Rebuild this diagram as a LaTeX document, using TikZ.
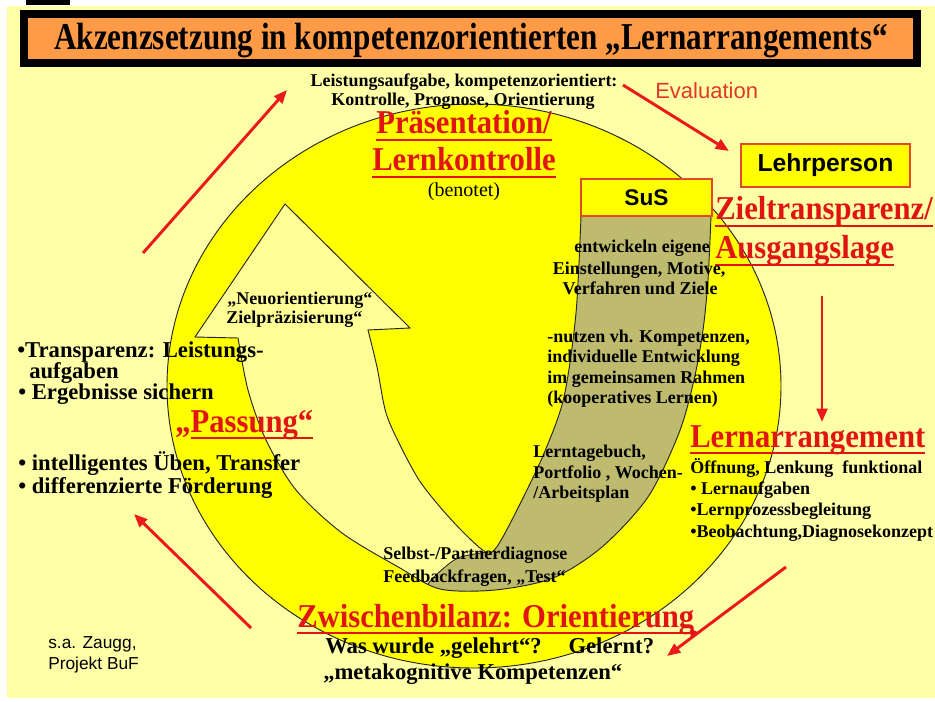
\documentclass[tikz,border=0pt]{standalone}
\usepackage{fontspec}
\setmainfont{Liberation Serif}
\newfontfamily\arialf{Liberation Sans}
\usetikzlibrary{arrows.meta}
\definecolor{bgy}{RGB}{255,255,168}
\definecolor{cyell}{RGB}{255,255,0}
\definecolor{arrowy}{RGB}{255,255,150}
\definecolor{olivef}{RGB}{190,186,110}
\definecolor{titleor}{RGB}{255,155,70}
\definecolor{hdred}{RGB}{225,20,20}
\definecolor{arred}{RGB}{235,25,25}
\definecolor{evred}{RGB}{225,55,40}
\definecolor{boxred}{RGB}{225,75,35}
\newcommand\fsz[1]{\fontsize{#1}{#1}\selectfont}
\newcommand\hul[1]{\setbox0=\hbox{#1}\rlap{\vrule height -3.6pt depth 5.4pt width \wd0}\box0}
\newcommand\cz[1]{\scalebox{0.92}[1]{#1}}
\newcommand\Ushp{(285,204) -- (410,328) -- (368,330) -- plot[smooth] coordinates {(368,330) (377,367) (386,413) (401,447) (419,480) (440,507) (461,530) (480,548) (490,553) (500,542) (522,500) (545,451) (564,397) (576,313) (581,216)} -- (711,216) -- plot[smooth] coordinates {(711,216) (708,280) (703,330) (694,380) (679,433) (648,497) (602,547) (553,578) (495,590) (440,589) (400,568) (342,533) (296,490) (266,440) (248,390) (238,338)} -- (195,337) -- cycle}
\begin{document}
\begin{tikzpicture}[x=0.75pt,y=-0.75pt,
  sb/.style={inner sep=0pt, font=\bfseries\fsz{13.5pt}},
  mb/.style={inner sep=0pt, font=\bfseries\fsz{17pt}},
  hd/.style={inner sep=0pt, text=hdred, font=\bfseries\fsz{25pt}},
  redarrow/.style={draw=arred, line width=2.2pt, -{Triangle[length=10pt,width=8pt]}},
  outl/.style={draw=black!85, line width=0.7pt}]
\useasboundingbox (0,0) rectangle (935,702);
\fill[white] (0,0) rectangle (935,702);
\fill[bgy] (7,6) rectangle (935,698);
\fill[black] (26,0) rectangle (70,5);
% title
\node[draw=black, line width=6pt, fill=titleor, minimum width=669.75pt, minimum height=36.75pt, inner sep=0pt] (tbox) at (470.5,38.5) {};
\node[anchor=base, inner sep=0pt, font=\bfseries\fsz{28.5pt}] (title) at (471,50) {\scalebox{0.82}[1]{Akzenzsetzung in kompetenzorientierten „Lernarrangements“}};
% big circle
\filldraw[fill=cyell, outl] (474,386) ellipse [x radius=230.25pt, y radius=211.5pt];
% U arrow
\fill[arrowy] \Ushp;
\begin{scope}
\clip (488,552) -- (458,558) -- (436,575) -- (428,584) -- (415,600) -- (415,702) -- (935,702) -- (935,150) -- (494,150) -- (494,548) -- cycle;
\fill[olivef] \Ushp;
\end{scope}
\draw[outl] plot[smooth] coordinates {(488,552) (458,558) (436,575) (428,584)};
\draw[outl] \Ushp;
% boxes
\node[draw=boxred, line width=1.1pt, fill=cyell, minimum width=98.25pt, minimum height=27.75pt, inner sep=0pt, font=\arialf\bfseries\fsz{17pt}] (sus) at (646.5,197.5) {SuS};
\node[draw=boxred, line width=1.1pt, fill=cyell, minimum width=126.75pt, minimum height=32.25pt, inner sep=0pt, font=\arialf\bfseries\fsz{18.5pt}] (lehr) at (825.5,165.5) {Lehrperson};
% top texts
\node[sb, anchor=base] (leist1) at (464,87) {Leistungsaufgabe, kompetenzorientiert:};
\node[sb, anchor=base] (leist2) at (463,106) {Kontrolle, Prognose, Orientierung};
\node[anchor=base west, inner sep=0pt, text=evred, font=\arialf\fsz{16.5pt}] (eval) at (655,99) {Evaluation};
\node[hd, anchor=base] (praes) at (464,134) {\hul{\cz{Präsentation/}}};
\node[hd, anchor=base] (lernk) at (464,171) {\hul{\cz{Lernkontrolle}}};
\node[anchor=base, inner sep=0pt, font=\fsz{15pt}] (benot) at (464,197) {(benotet)};
% right texts
\node[hd, anchor=base west] (ziel1) at (715,220) {\hul{\cz{Zieltransparenz/}}};
\node[hd, anchor=base west] (ziel2) at (715,259) {\hul{\cz{Ausgangslage}}};
\node[hd, anchor=base west] (lernarr) at (690,447) {\hul{\cz{Lernarrangement}}};
\node[sb, anchor=base west] (oeff) at (690,473) {Öffnung, Lenkung\ \ funktional};
\node[sb, anchor=base west] (la1) at (690,494) {• Lernaufgaben};
\node[sb, anchor=base west] (la2) at (690,515) {•Lernprozessbegleitung};
\node[sb, anchor=base west] (la3) at (690,537) {•Beobachtung,Diagnosekonzept};
% inner texts
\node[sb, anchor=base] (ent1) at (642,253) {entwickeln eigene};
\node[sb, anchor=base] (ent2) at (639,275) {Einstellungen, Motive,};
\node[sb, anchor=base] (ent3) at (640,295) {Verfahren und Ziele};
\node[sb, anchor=base west] (nutz1) at (547,342) {-nutzen vh. Kompetenzen,};
\node[sb, anchor=base west] (nutz2) at (547,362) {individuelle Entwicklung};
\node[sb, anchor=base west] (nutz3) at (547,383) {im gemeinsamen Rahmen};
\node[sb, anchor=base west] (nutz4) at (547,403) {(kooperatives Lernen)};
\node[sb, anchor=base west] (lt1) at (533,457) {Lerntagebuch,};
\node[sb, anchor=base west] (lt2) at (533,478) {Portfolio , Wochen-};
\node[sb, anchor=base west] (lt3) at (533,498) {/Arbeitsplan};
\node[sb, anchor=base west] (sp1) at (383,559) {Selbst-/Partnerdiagnose};
\node[sb, anchor=base west] (sp2) at (383,582) {Feedbackfragen, „Test“};
\node[sb, anchor=base west] (neu1) at (227,305) {„Neuorientierung“};
\node[sb, anchor=base west] (neu2) at (226,323) {Zielpräzisierung“};
% left texts
\node[mb, anchor=base west] (tr1) at (17,357) {•Transparenz: Leistungs-};
\node[mb, anchor=base west] (tr2) at (29,378) {aufgaben};
\node[mb, anchor=base west] (tr3) at (18,399) {• Ergebnisse sichern};
\node[hd, anchor=base west] (pass) at (175,432) {\cz{„}\hul{\cz{Passung“}}};
\node[mb, anchor=base west] (int1) at (18,470) {• intelligentes Üben, Transfer};
\node[mb, anchor=base west] (int2) at (18,493) {• differenzierte Förderung};
% bottom texts
\node[hd, anchor=base west] (zw) at (297,627) {\cz{Zwischenbilanz: Orientierung}};
\draw[draw=hdred, line width=1.9pt, -{Triangle[length=7pt,width=6pt]}] ([yshift=-4.5pt]zw.base west) -- ([yshift=-4.5pt,xshift=4pt]zw.base east);
\node[mb, anchor=base west] (was) at (325,653) {Was wurde „gelehrt“?\hspace{20pt}Gelernt?};
\node[mb, anchor=base west] (meta) at (323,679) {„metakognitive Kompetenzen“};
\node[anchor=base west, inner sep=0pt, font=\arialf\fsz{13pt}] (zaugg) at (48,648) {s.a. Zaugg,};
\node[anchor=base west, inner sep=0pt, font=\arialf\fsz{13pt}] (buf) at (48,669) {Projekt BuF};
% red arrows
\coordinate (a1s) at (143,253); \coordinate (a1e) at (287,90);
\coordinate (a2s) at (623,85); \coordinate (a2e) at (729,151);
\coordinate (a3s) at (822,296); \coordinate (a3e) at (822,422);
\coordinate (a4s) at (786,567); \coordinate (a4e) at (667,656);
\coordinate (a5s) at (251,628); \coordinate (a5e) at (134,514);
\draw[redarrow] (a1s) -- (a1e);
\draw[redarrow] (a2s) -- (a2e);
\draw[redarrow] (a3s) -- (a3e);
\draw[redarrow] (a4s) -- (a4e);
\draw[redarrow] (a5s) -- (a5e);
\end{tikzpicture}
\end{document}
